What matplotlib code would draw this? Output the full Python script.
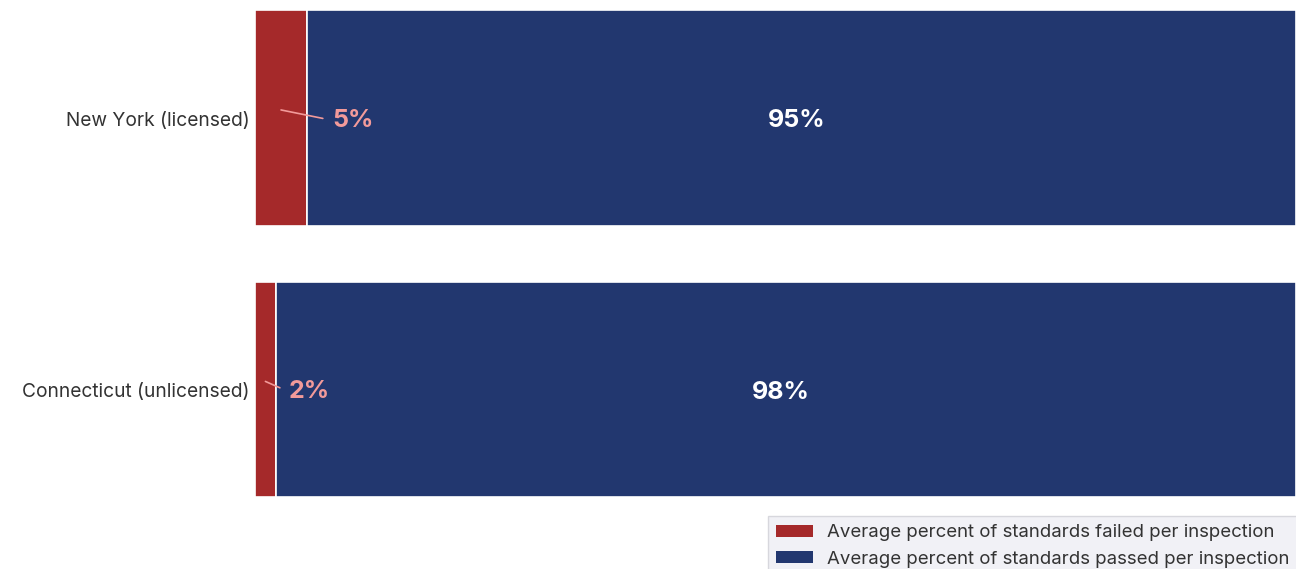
import matplotlib
matplotlib.use("Agg")
import matplotlib.pyplot as plt
from matplotlib.patches import Patch

states = ["New York (licensed)", "Connecticut (unlicensed)"]
failed = [5, 2]
passed = [95, 98]
series_names = [
    "Average percent of standards failed per inspection",
    "Average percent of standards passed per inspection",
]

RED = "#a5292a"
NAVY = "#22376f"
PINK = "#f29a9a"
TEXT = "#333333"

plt.rcParams["font.family"] = ["Inter", "DejaVu Sans"]

fig = plt.figure(figsize=(12.96, 5.69), dpi=100)
ax = fig.add_axes([255 / 1296, 0, 1 - 255 / 1296, 1])

y = list(range(len(states)))
ax.barh(y, failed, height=0.795, color=RED, edgecolor="white", linewidth=1.2)
ax.barh(y, passed, left=failed, height=0.795, color=NAVY,
        edgecolor="white", linewidth=1.2)

ax.set_xlim(0, 100)
ax.set_ylim(1.661, -0.435)
ax.axis("off")

# category labels to the left of the bars
for yi, name in zip(y, states):
    ax.annotate(name, xy=(0, yi + 0.01), xytext=(-4, 0),
                textcoords="offset points", ha="right", va="center",
                fontsize=13.8, color=TEXT)

# how far the outside labels sit from the middle of the red segment (pt)
out_offsets = [37, 17]

for yi, f, p, dx in zip(y, failed, passed, out_offsets):
    # passed share, centred in the navy segment
    ax.text(f + p / 2 - 0.5, yi + 0.01, f"{p}%", ha="center", va="center",
            fontsize=18, fontweight="bold", color="white")
    # failed share, pulled out with a short leader line
    ax.annotate(f"{f}%", xy=(f / 2, yi - 0.03), xytext=(dx, -7.5),
                textcoords="offset points", ha="left", va="center",
                fontsize=18, fontweight="bold", color=PINK,
                arrowprops=dict(arrowstyle="-", color=PINK, lw=1.2,
                                shrinkA=5, shrinkB=0, relpos=(0, 0.5)))

handles = [Patch(facecolor=RED, label=series_names[0]),
           Patch(facecolor=NAVY, label=series_names[1])]
leg = fig.legend(handles=handles, loc="upper left",
                 bbox_to_anchor=(768 / 1296, 1 - 516 / 569),
                 fontsize=13.4, frameon=True, fancybox=False,
                 handlelength=1.95, handleheight=0.65, labelspacing=0.5,
                 borderpad=0.45, borderaxespad=0, handletextpad=0.75,
                 labelcolor=TEXT)
leg.get_frame().set_facecolor("#eeeef4")
leg.get_frame().set_edgecolor("#cfcfd6")

fig.savefig("out.png", dpi=100, facecolor="white")
